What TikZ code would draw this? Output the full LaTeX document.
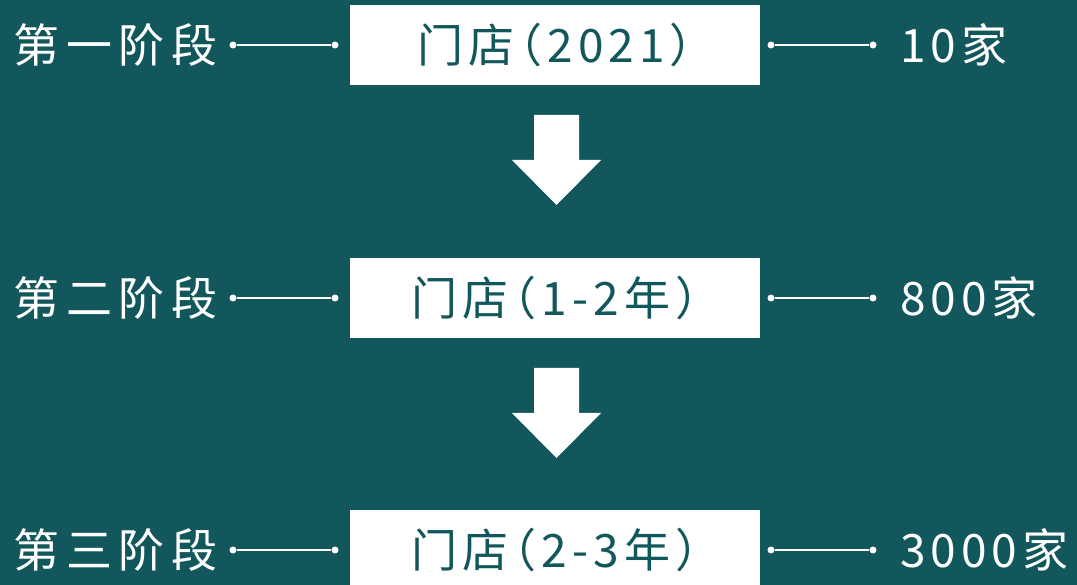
\documentclass[tikz,border=0pt]{standalone}
\usepackage{fontspec}
\newfontfamily\cjkwide[LetterSpace=15,RawFeature={+halt}]{Noto Sans CJK SC}
\newfontfamily\cjk[LetterSpace=11,RawFeature={+halt}]{Noto Sans CJK SC}
\definecolor{bg}{RGB}{17,87,91}
\begin{document}
\begin{tikzpicture}[x=1pt,y=-1pt,
  stage/.style={font=\cjkwide\fontsize{46}{50}\selectfont, text=white, anchor=west, inner sep=0},
  count/.style={font=\cjk\fontsize{46}{50}\selectfont, text=white, anchor=west, inner sep=0},
  storebox/.style={fill=white, minimum width=410pt, minimum height=80pt, inner sep=0, text=bg, font=\cjk\fontsize{46}{50}\selectfont},
  dot/.style={circle, fill=white, inner sep=0, minimum size=7pt},
  link/.style={draw=white, line width=1.6pt},
  bigarrow/.style={fill=white}]
\useasboundingbox (0,0) rectangle (1077,585);
\clip (0,0) rectangle (1077,585);
\fill[bg] (0,0) rectangle (1077,585);
% boxes
\node[storebox] (b1) at (555,45) {门店（2021）};
\node[storebox] (b2) at (555,298) {门店（1-2年）};
\node[storebox] (b3) at (555,550) {门店（2-3年）};
% stage labels
\node[stage] (s1) at (13,45) {第一阶段};
\node[stage] (s2) at (13,298) {第二阶段};
\node[stage] (s3) at (13,550) {第三阶段};
% counts
\node[count] (c1) at (900,45) {10家};
\node[count] (c2) at (900,298) {800家};
\node[count] (c3) at (900,550) {3000家};
% connector dots
\foreach \i/\y in {1/45,2/298,3/550}{
  \node[dot] (la\i) at (233,\y) {};
  \node[dot] (lb\i) at (335,\y) {};
  \node[dot] (ra\i) at (771,\y) {};
  \node[dot] (rb\i) at (873,\y) {};
  \draw[link] (la\i) -- (lb\i);
  \draw[link] (ra\i) -- (rb\i);
}
% arrows
\fill[bigarrow] (534,115) -- (579,115) -- (579,160) -- (601,160) -- (556.5,205) -- (512,160) -- (534,160) -- cycle;
\fill[bigarrow] (534,368) -- (579,368) -- (579,413) -- (601,413) -- (556.5,458) -- (512,413) -- (534,413) -- cycle;
\end{tikzpicture}
\end{document}
